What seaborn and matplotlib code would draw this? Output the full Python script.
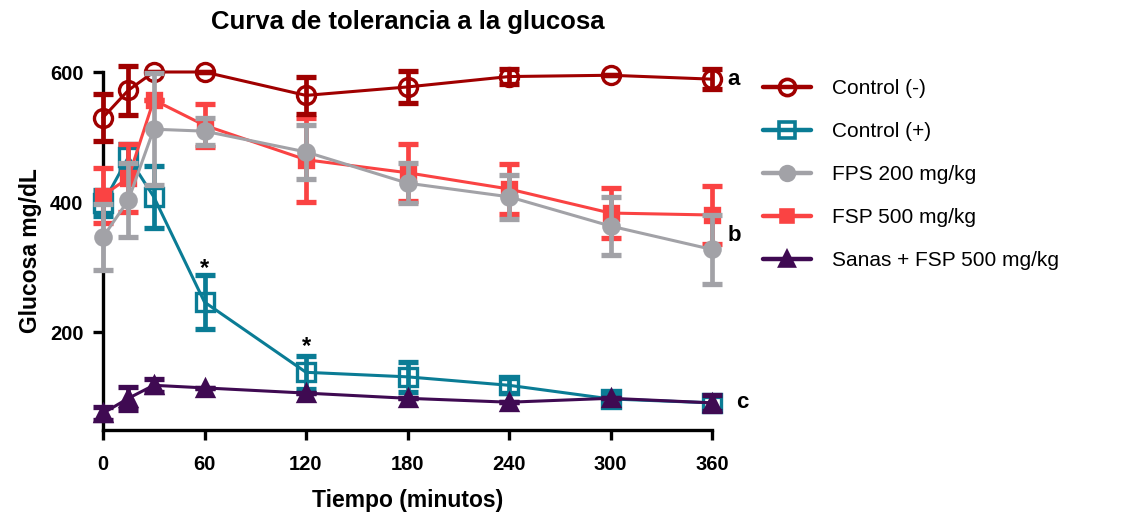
import matplotlib
matplotlib.use("Agg")
import matplotlib.pyplot as plt
from matplotlib.lines import Line2D
import seaborn as sns
import pandas as pd

sns.set_theme(style="white")
plt.rcParams['font.family'] = ['Liberation Sans', 'DejaVu Sans']
plt.rcParams['text.color'] = 'black'
plt.rcParams['axes.labelcolor'] = 'black'
plt.rcParams['xtick.color'] = 'black'
plt.rcParams['ytick.color'] = 'black'

tiempo = [0, 15, 30, 60, 120, 180, 240, 300, 360]

control_neg = [530, 572, 600, 600, 564, 577, 593, 595, 589]
control_neg_sd = [36, 38, 0, 0, 29, 25, 12, 0, 15]

control_pos = [398, 469, 408, 246, 138, 131, 118, 97, 91]
control_pos_sd = [20, 20, 48, 41, 25, 23, 12, 8, 10]

fps_200 = [346, 403, 512, 509, 477, 429, 408, 363, 327]
fps_200_sd = [51, 57, 86, 21, 41, 31, 34, 44, 53]

fsp_500 = [410, 437, 557, 518, 465, 445, 420, 383, 380]
fsp_500_sd = [43, 53, 0, 33, 65, 44, 39, 38, 45]

sanas_fsp = [75, 98, 118, 114, 106, 98, 92, 98, 91]
sanas_fsp_sd = [10, 18, 10, 0, 0, 0, 0, 0, 12]

labels = ["Control (-)", "Control (+)", "FPS 200 mg/kg", "FSP 500 mg/kg", "Sanas + FSP 500 mg/kg"]
colors = ["#A00000", "#0A7C95", "#A2A2A7", "#FA4343", "#3F0A52"]

series = [
    # values, sd, color, marker, size, facecolor, zorder
    (control_neg, control_neg_sd, colors[0], "o", 13, "none", 5),
    (control_pos, control_pos_sd, colors[1], "s", 13, "none", 2),
    (fps_200, fps_200_sd, colors[2], "o", 11, colors[2], 6),
    (fsp_500, fsp_500_sd, colors[3], "s", 10, colors[3], 4),
    (sanas_fsp, sanas_fsp_sd, colors[4], "^", 11, colors[4], 3),
]

fig = plt.figure(figsize=(11.47, 5.16), dpi=100)
ax = fig.add_axes([103/1147, (516-429.5)/516, (712-103)/1147, (429.5-72)/516])

for vals, sd, c, m, ms, fc, z in series:
    df = pd.DataFrame({"Tiempo": tiempo, "Glucosa": vals})
    sns.lineplot(data=df, x="Tiempo", y="Glucosa", ax=ax, color=c, lw=2.2,
                 marker=m, markersize=ms, markerfacecolor=fc, markeredgecolor=c,
                 markeredgewidth=2.4, zorder=z, clip_on=False)
    ax.errorbar(tiempo, vals, yerr=sd, fmt="none", ecolor=c, elinewidth=3.4,
                capsize=7, capthick=3.8, zorder=z, clip_on=False)

ax.set_xlim(0, 360)
ax.set_ylim(50, 600)
ax.set_xticks([0, 60, 120, 180, 240, 300, 360])
ax.set_yticks([200, 400, 600])

for s in ["top", "right"]:
    ax.spines[s].set_visible(False)
for s in ["left", "bottom"]:
    ax.spines[s].set_linewidth(2.4)
    ax.spines[s].set_color("black")
ax.tick_params(axis="both", direction="out", length=7, width=2.4, color="black",
               labelsize=14.5, pad=7, left=True, bottom=True)
ax.tick_params(axis="x", pad=11)
for lab in ax.get_xticklabels() + ax.get_yticklabels():
    lab.set_fontweight("bold")

ax.set_xlabel("Tiempo (minutos)", fontsize=16.5, fontweight="bold", labelpad=11)
ax.set_ylabel("Glucosa mg/dL", fontsize=16.5, fontweight="bold", labelpad=6)
ax.set_title("Curva de tolerancia a la glucosa", fontsize=18.5, fontweight="bold", pad=31)

# significance marks and group letters
ax.text(60, 297, "*", ha="center", va="center", fontsize=17, fontweight="bold")
ax.text(120, 177, "*", ha="center", va="center", fontsize=17, fontweight="bold")
ax.text(373, 588, "a", ha="center", va="center", fontsize=16, fontweight="bold", clip_on=False)
ax.text(373, 349, "b", ha="center", va="center", fontsize=16, fontweight="bold", clip_on=False)
ax.text(378, 91, "c", ha="center", va="center", fontsize=16, fontweight="bold", clip_on=False)

handles = []
for vals, sd, c, m, ms, fc, z in series:
    handles.append(Line2D([0], [0], color=c, lw=3.2, marker=m, markersize=ms * 0.9,
                          markerfacecolor=fc, markeredgecolor=c, markeredgewidth=2.6))
fig.legend(handles, labels, loc="upper left", bbox_to_anchor=(755/1147, 1-71/516),
           frameon=False, fontsize=15, labelspacing=1.15, handlelength=2.3,
           handletextpad=1.0, borderaxespad=0)

fig.savefig("out.png", dpi=100)
